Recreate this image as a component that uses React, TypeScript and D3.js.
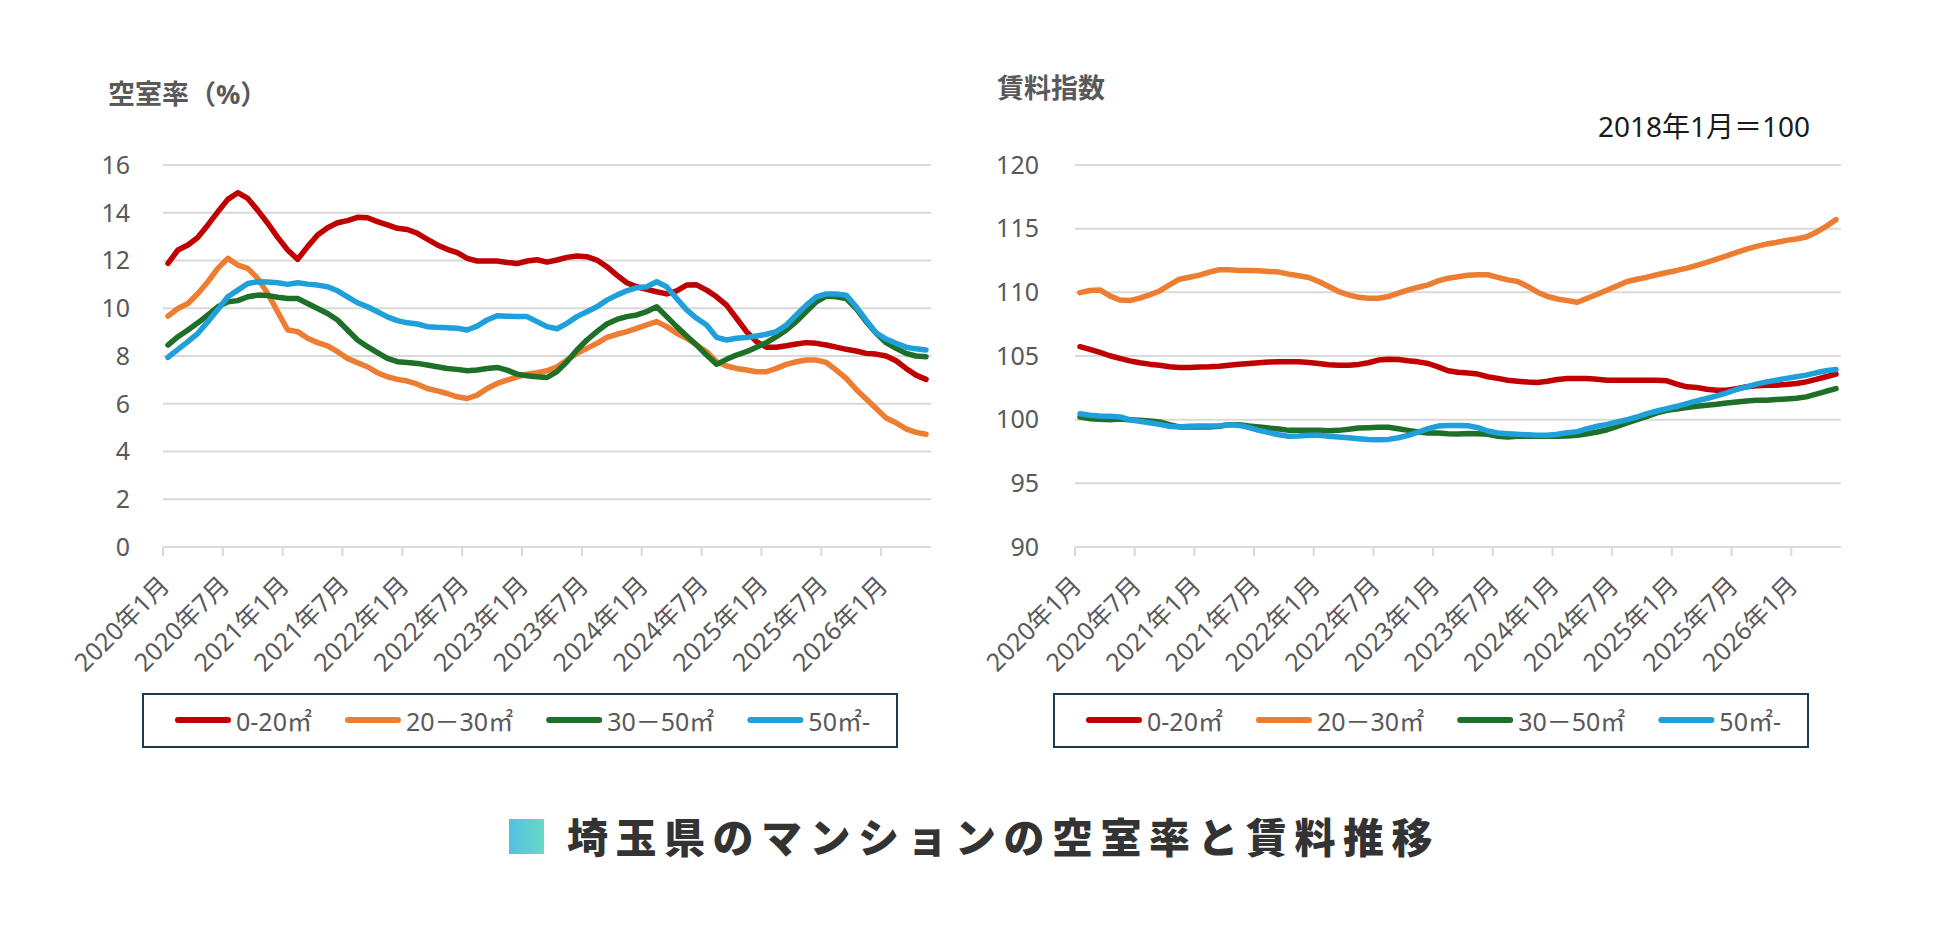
import { useEffect, useRef } from 'react';
import * as d3 from 'd3';

// Jan 2020 .. May 2026, monthly
const monthCount = 77;
const months = d3.range(monthCount).map(i => `${2020 + Math.floor(i / 12)}年${(i % 12) + 1}月`);

const seriesNames = ['0-20㎡', '20－30㎡', '30－50㎡', '50㎡-'];
const seriesColors = ['#c00000', '#ed7d31', '#1e6f27', '#1fa0da'];

const vacancyTicks = [0, 2, 4, 6, 8, 10, 12, 14, 16];
const rentTicks = [90, 95, 100, 105, 110, 115, 120];

// 空室率 (%)
const vacancy0to20 = [
  11.88, 12.44, 12.65, 12.97, 13.49, 14.04, 14.56, 14.84, 14.6, 14.1, 13.56, 12.97,
  12.44, 12.05, 12.58, 13.07, 13.37, 13.58, 13.67, 13.81, 13.79, 13.63, 13.49, 13.35,
  13.3, 13.14, 12.89, 12.65, 12.47, 12.33, 12.09, 11.98, 11.98, 11.98, 11.92, 11.87,
  11.98, 12.03, 11.93, 12.02, 12.13, 12.19, 12.16, 12.02, 11.74, 11.39, 11.07, 10.9,
  10.79, 10.69, 10.6, 10.73, 10.97, 10.98, 10.76, 10.48, 10.13, 9.58, 9.02, 8.6,
  8.37, 8.37, 8.43, 8.5, 8.56, 8.53, 8.46, 8.37, 8.28, 8.21, 8.11, 8.08,
  8.0, 7.8, 7.48, 7.2, 7.02,
];
const vacancy20to30 = [
  9.67, 9.99, 10.2, 10.62, 11.11, 11.67, 12.09, 11.81, 11.67, 11.25, 10.62, 9.85,
  9.09, 9.02, 8.74, 8.56, 8.42, 8.18, 7.9, 7.72, 7.55, 7.3, 7.13, 7.02,
  6.95, 6.82, 6.64, 6.54, 6.43, 6.29, 6.22, 6.36, 6.64, 6.85, 6.99, 7.13,
  7.24, 7.3, 7.38, 7.55, 7.83, 8.11, 8.32, 8.53, 8.78, 8.91, 9.02, 9.16,
  9.3, 9.44, 9.23, 8.95, 8.74, 8.46, 8.18, 7.76, 7.58, 7.48, 7.41, 7.34,
  7.34, 7.48, 7.65, 7.76, 7.83, 7.83, 7.73, 7.41, 7.06, 6.6, 6.2, 5.8,
  5.4, 5.2, 4.95, 4.8, 4.72,
];
const vacancy30to50 = [
  8.46, 8.81, 9.09, 9.39, 9.72, 10.06, 10.27, 10.32, 10.48, 10.55, 10.53, 10.46,
  10.41, 10.41, 10.2, 9.99, 9.78, 9.51, 9.09, 8.67, 8.39, 8.14, 7.9, 7.76,
  7.73, 7.69, 7.62, 7.55, 7.48, 7.44, 7.38, 7.41, 7.48, 7.52, 7.41, 7.24,
  7.17, 7.13, 7.1, 7.35, 7.76, 8.25, 8.67, 9.02, 9.34, 9.53, 9.65, 9.72,
  9.86, 10.06, 9.65, 9.23, 8.84, 8.46, 8.04, 7.65, 7.86, 8.04, 8.18, 8.37,
  8.56, 8.81, 9.09, 9.44, 9.86, 10.27, 10.51, 10.48, 10.41, 9.99, 9.44, 8.95,
  8.56, 8.32, 8.11, 8.0, 7.97,
];
const vacancy50up = [
  7.94, 8.28, 8.6, 8.95, 9.44, 9.95, 10.48, 10.76, 11.04, 11.11, 11.1, 11.07,
  11.0, 11.07, 11.01, 10.97, 10.9, 10.73, 10.48, 10.23, 10.06, 9.85, 9.64, 9.48,
  9.39, 9.34, 9.23, 9.2, 9.18, 9.16, 9.09, 9.25, 9.51, 9.69, 9.67, 9.65,
  9.65, 9.44, 9.23, 9.14, 9.37, 9.65, 9.85, 10.06, 10.34, 10.55, 10.73, 10.86,
  10.9, 11.11, 10.9, 10.41, 9.93, 9.58, 9.3, 8.78, 8.67, 8.74, 8.77, 8.84,
  8.91, 9.02, 9.3, 9.72, 10.13, 10.48, 10.6, 10.6, 10.55, 10.06, 9.5, 8.97,
  8.71, 8.53, 8.37, 8.3, 8.25,
];

// 賃料指数 (2018年1月=100)
const rent0to20 = [
  105.73, 105.52, 105.28, 105.02, 104.81, 104.62, 104.47, 104.36, 104.28, 104.15, 104.1, 104.1,
  104.13, 104.15, 104.2, 104.28, 104.36, 104.41, 104.47, 104.52, 104.54, 104.54, 104.54, 104.49,
  104.41, 104.31, 104.28, 104.28, 104.34, 104.47, 104.68, 104.75, 104.73, 104.62, 104.54, 104.41,
  104.15, 103.84, 103.72, 103.66, 103.58, 103.37, 103.24, 103.1, 103.02, 102.95, 102.92, 103.02,
  103.16, 103.24, 103.24, 103.24, 103.18, 103.1, 103.1, 103.1, 103.1, 103.1, 103.1, 103.05,
  102.79, 102.58, 102.53, 102.39, 102.31, 102.31, 102.44, 102.58, 102.66, 102.71, 102.71, 102.76,
  102.84, 102.97, 103.16, 103.37, 103.58,
];
const rent20to30 = [
  109.98, 110.14, 110.19, 109.72, 109.4, 109.35, 109.54, 109.8, 110.11, 110.59, 111.03, 111.19,
  111.35, 111.59, 111.77, 111.77, 111.72, 111.72, 111.69, 111.64, 111.59, 111.43, 111.3, 111.17,
  110.85, 110.46, 110.06, 109.8, 109.61, 109.54, 109.54, 109.67, 109.93, 110.19, 110.4, 110.59,
  110.9, 111.11, 111.22, 111.34, 111.38, 111.38, 111.17, 110.98, 110.85, 110.46, 110.01, 109.67,
  109.48, 109.35, 109.22, 109.54, 109.85, 110.19, 110.51, 110.85, 111.03, 111.19, 111.38, 111.56,
  111.72, 111.9, 112.11, 112.35, 112.61, 112.87, 113.14, 113.4, 113.61, 113.79, 113.92, 114.08,
  114.19, 114.34, 114.71, 115.18, 115.71,
];
const rent30to50 = [
  100.21, 100.08, 100.03, 100.0, 100.05, 100.0, 99.95, 99.9, 99.82, 99.61, 99.43, 99.43,
  99.43, 99.43, 99.48, 99.61, 99.61, 99.5, 99.43, 99.34, 99.27, 99.16, 99.16, 99.16,
  99.16, 99.13, 99.16, 99.24, 99.34, 99.37, 99.4, 99.4, 99.29, 99.16, 99.03, 98.95,
  98.95, 98.9, 98.87, 98.92, 98.9, 98.85, 98.69, 98.64, 98.69, 98.69, 98.69, 98.69,
  98.69, 98.71, 98.77, 98.9, 99.03, 99.21, 99.48, 99.74, 100.0, 100.26, 100.53, 100.74,
  100.84, 100.95, 101.05, 101.13, 101.21, 101.31, 101.39, 101.47, 101.52, 101.52, 101.58, 101.63,
  101.68, 101.79, 102.0, 102.23, 102.44,
];
const rent50up = [
  100.47, 100.34, 100.29, 100.26, 100.21, 100.0, 99.87, 99.76, 99.63, 99.48, 99.43, 99.48,
  99.5, 99.5, 99.5, 99.61, 99.55, 99.37, 99.16, 98.98, 98.82, 98.69, 98.71, 98.77,
  98.77, 98.69, 98.64, 98.58, 98.51, 98.45, 98.43, 98.45, 98.58, 98.77, 99.03, 99.29,
  99.5, 99.55, 99.55, 99.52, 99.37, 99.11, 98.95, 98.9, 98.85, 98.82, 98.77, 98.77,
  98.85, 98.98, 99.06, 99.29, 99.48, 99.63, 99.82, 100.0, 100.21, 100.47, 100.68, 100.87,
  101.05, 101.26, 101.47, 101.66, 101.87, 102.1, 102.37, 102.58, 102.79, 102.97, 103.1, 103.24,
  103.37, 103.5, 103.68, 103.84, 103.94,
];

const FONT = "'Noto Sans', 'Noto Sans CJK JP', sans-serif";
const LABEL_GRAY = '#595959';
const GRID = '#d9d9d9';

interface PanelOptions {
  left: number;
  right: number;
  top: number;
  bottom: number;
  ticks: number[];
  series: number[][];
  title: string;
  titleX: number;
  titleY: number;
  labelX: number;
  legendX: number;
}

function drawPanel(svg: d3.Selection<SVGSVGElement, unknown, null, undefined>, o: PanelOptions) {
  const g = svg.append('g');

  const x = d3.scaleBand<string>().domain(months).range([o.left, o.right]);
  const y = d3.scaleLinear()
    .domain([o.ticks[0], o.ticks[o.ticks.length - 1]])
    .range([o.bottom, o.top]);
  const cx = (i: number) => x(months[i])! + x.bandwidth() / 2;

  // gridlines
  g.selectAll('.grid')
    .data(o.ticks)
    .enter()
    .append('line')
    .attr('x1', o.left)
    .attr('x2', o.right)
    .attr('y1', d => y(d))
    .attr('y2', d => y(d))
    .attr('stroke', GRID)
    .attr('stroke-width', 2);

  // y tick labels
  g.selectAll('.ylab')
    .data(o.ticks)
    .enter()
    .append('text')
    .attr('x', o.labelX)
    .attr('y', d => y(d))
    .attr('dy', '0.35em')
    .attr('text-anchor', 'end')
    .attr('font-size', 25)
    .attr('fill', LABEL_GRAY)
    .text(d => d);

  // x tick marks every 6 months
  const tickMonths = months.filter((_, i) => i % 6 === 0);
  g.selectAll('.xtick')
    .data(tickMonths)
    .enter()
    .append('line')
    .attr('x1', d => x(d)!)
    .attr('x2', d => x(d)!)
    .attr('y1', o.bottom)
    .attr('y2', o.bottom + 9)
    .attr('stroke', GRID)
    .attr('stroke-width', 2);

  g.selectAll('.xlab')
    .data(tickMonths)
    .enter()
    .append('text')
    .attr('transform', d => `translate(${x(d)! + x.bandwidth() / 2 + 3},${o.bottom + 40}) rotate(-45)`)
    .attr('text-anchor', 'end')
    .attr('font-size', 25)
    .attr('fill', LABEL_GRAY)
    .text(d => d);

  // series
  const line = d3.line<number>()
    .x((_, i) => cx(i))
    .y(d => y(d));

  o.series.forEach((s, k) => {
    g.append('path')
      .datum(s)
      .attr('d', line)
      .attr('fill', 'none')
      .attr('stroke', seriesColors[k])
      .attr('stroke-width', 5.5)
      .attr('stroke-linejoin', 'round')
      .attr('stroke-linecap', 'round');
  });

  // axis title
  g.append('text')
    .attr('x', o.titleX)
    .attr('y', o.titleY)
    .attr('font-size', 27)
    .attr('font-weight', 700)
    .attr('fill', LABEL_GRAY)
    .text(o.title);

  // legend
  const lg = g.append('g');
  lg.append('rect')
    .attr('x', o.legendX)
    .attr('y', 694)
    .attr('width', 754)
    .attr('height', 53)
    .attr('fill', 'white')
    .attr('stroke', '#1f3a4f')
    .attr('stroke-width', 2);

  let sx = o.legendX + 32;
  seriesNames.forEach((name, k) => {
    lg.append('line')
      .attr('x1', sx + 3)
      .attr('x2', sx + 53)
      .attr('y1', 720)
      .attr('y2', 720)
      .attr('stroke', seriesColors[k])
      .attr('stroke-width', 6)
      .attr('stroke-linecap', 'round');
    const t = lg.append('text')
      .attr('x', sx + 61)
      .attr('y', 731)
      .attr('font-size', 25)
      .attr('fill', LABEL_GRAY)
      .text(name);
    const w = (t.node() as SVGTextElement).getComputedTextLength();
    sx = sx + 61 + w + 33;
  });
}

export default function App() {
  const svgRef = useRef<SVGSVGElement>(null);

  useEffect(() => {
    document.body.style.margin = '0';
    if (!svgRef.current) return;
    const svg = d3.select(svgRef.current);
    svg.selectAll('*').remove();

    drawPanel(svg, {
      left: 163,
      right: 931,
      top: 165,
      bottom: 547,
      ticks: vacancyTicks,
      series: [vacancy0to20, vacancy20to30, vacancy30to50, vacancy50up],
      title: '空室率（%）',
      titleX: 108,
      titleY: 104,
      labelX: 130,
      legendX: 143,
    });

    drawPanel(svg, {
      left: 1075,
      right: 1841,
      top: 165,
      bottom: 547,
      ticks: rentTicks,
      series: [rent0to20, rent20to30, rent30to50, rent50up],
      title: '賃料指数',
      titleX: 997,
      titleY: 98,
      labelX: 1039,
      legendX: 1054,
    });

    svg.append('text')
      .attr('x', 1598)
      .attr('y', 137)
      .attr('font-size', 28)
      .attr('fill', '#1a1a1a')
      .text('2018年1月＝100');

    // bottom title with gradient square
    const defs = svg.append('defs');
    const grad = defs.append('linearGradient')
      .attr('id', 'titleSquare')
      .attr('x1', '0%')
      .attr('x2', '100%');
    grad.append('stop').attr('offset', '0%').attr('stop-color', '#54c0e0');
    grad.append('stop').attr('offset', '100%').attr('stop-color', '#68d8c6');

    svg.append('rect')
      .attr('x', 509)
      .attr('y', 819)
      .attr('width', 35)
      .attr('height', 35)
      .attr('fill', 'url(#titleSquare)');

    svg.append('text')
      .attr('x', 567)
      .attr('y', 853)
      .attr('font-family', "'Noto Sans CJK JP', sans-serif")
      .attr('font-size', 41)
      .attr('font-weight', 900)
      .attr('letter-spacing', 7.5)
      .attr('fill', '#333333')
      .text('埼玉県のマンションの空室率と賃料推移');
  }, []);

  return (
    <svg
      ref={svgRef}
      width={1950}
      height={933}
      style={{ display: 'block', background: 'white', fontFamily: FONT }}
    />
  );
}
